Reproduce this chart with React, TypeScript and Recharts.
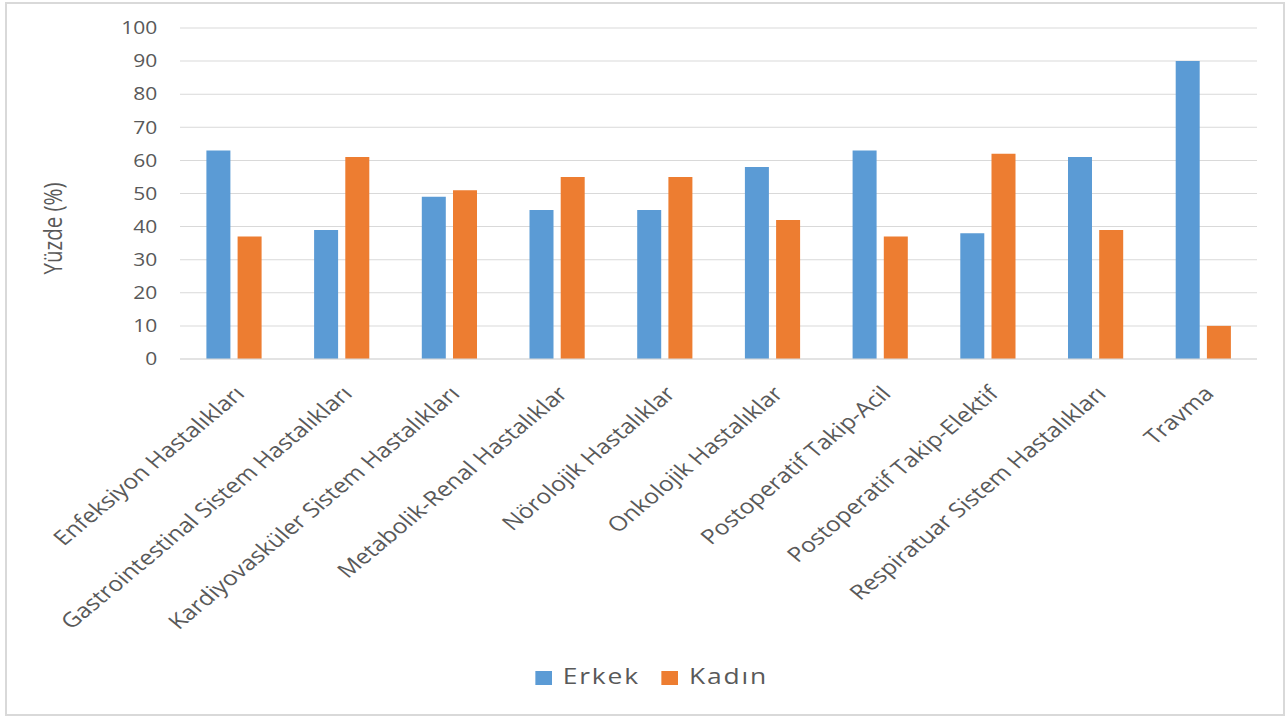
import React from 'react';
import {
  BarChart,
  Bar,
  XAxis,
  YAxis,
  CartesianGrid,
  Legend,
  Label,
} from 'recharts';

const categories = [
  'Enfeksiyon Hastalıkları',
  'Gastrointestinal Sistem Hastalıkları',
  'Kardiyovasküler Sistem Hastalıkları',
  'Metabolik-Renal Hastalıklar',
  'Nörolojik Hastalıklar',
  'Onkolojik Hastalıklar',
  'Postoperatif Takip-Acil',
  'Postoperatif Takip-Elektif',
  'Respiratuar Sistem Hastalıkları',
  'Travma',
];
const erkek = [63, 39, 49, 45, 45, 58, 63, 38, 61, 90];
const kadin = [37, 61, 51, 55, 55, 42, 37, 62, 39, 10];
const yTicks = [0, 10, 20, 30, 40, 50, 60, 70, 80, 90, 100];

const data = categories.map((name, i) => ({
  name,
  Erkek: erkek[i],
  Kadın: kadin[i],
}));

const FONT = '"Open Sans", sans-serif';
const TEXT = '#595959';
const GRID = '#d9d9d9';
// the whole chart is drawn narrower and widened with scaleX
const STRETCH = 1.2;
const W = 1287 / STRETCH;
const H = 716;

const CategoryTick = (props: any) => {
  const { x, y, payload } = props;
  return (
    <text
      transform={`translate(${x + 10},${y + 36}) rotate(-45)`}
      textAnchor="end"
      fontSize={20.5}
      fontFamily={FONT}
      fill={TEXT}
    >
      {payload.value}
    </text>
  );
};

const YTitle = (props: any) => {
  const { viewBox } = props;
  const cx = 44;
  const cy = viewBox.y + viewBox.height / 2 + 35;
  return (
    <text
      transform={`translate(${cx},${cy}) rotate(-90)`}
      textAnchor="middle"
      dominantBaseline="central"
      fontSize={20.5}
      fontFamily={FONT}
      fill={TEXT}
    >
      Yüzde (%)
    </text>
  );
};

const App = () => {
  return (
    <div
      style={{
        position: 'absolute',
        left: 0,
        top: 0,
        width: 1287,
        height: 716,
        background: '#fff',
      }}
    >
      <div
        style={{
          position: 'absolute',
          left: 5,
          top: 2,
          width: 1276,
          height: 710,
          border: `2px solid ${GRID}`,
        }}
      />
      <div
        style={{
          position: 'absolute',
          left: 0,
          top: 0,
          transform: `scaleX(${STRETCH})`,
          transformOrigin: '0 0',
        }}
      >
        <BarChart
          width={W}
          height={H}
          data={data}
          margin={{ top: 28, right: 25, bottom: 26, left: 0 }}
          barSize={20}
          barGap={6}
        >
          <CartesianGrid vertical={false} stroke={GRID} />
          <XAxis
            dataKey="name"
            interval={0}
            height={301}
            tickSize={0}
            tickMargin={0}
            tickLine={false}
            axisLine={{ stroke: GRID }}
            tick={<CategoryTick />}
          />
          <YAxis
            width={150}
            domain={[0, 100]}
            ticks={yTicks}
            tickSize={0}
            tickMargin={19}
            axisLine={false}
            tickLine={false}
            tick={{ fontSize: 17.5, fontFamily: FONT, fill: TEXT }}
          >
            <Label content={<YTitle />} />
          </YAxis>
          <Legend
            verticalAlign="bottom"
            iconType="square"
            iconSize={14}
            wrapperStyle={{ fontFamily: FONT, fontSize: 22, left: 446, width: 'auto' }}
            formatter={(value: string) => (
              <span
                style={{
                  color: TEXT,
                  letterSpacing: 1.5,
                  marginLeft: 5,
                  marginRight: 8,
                }}
              >
                {value}
              </span>
            )}
          />
          <Bar dataKey="Erkek" fill="#5b9bd5" isAnimationActive={false} />
          <Bar dataKey="Kadın" fill="#ed7d31" isAnimationActive={false} />
        </BarChart>
      </div>
    </div>
  );
};

export default App;
